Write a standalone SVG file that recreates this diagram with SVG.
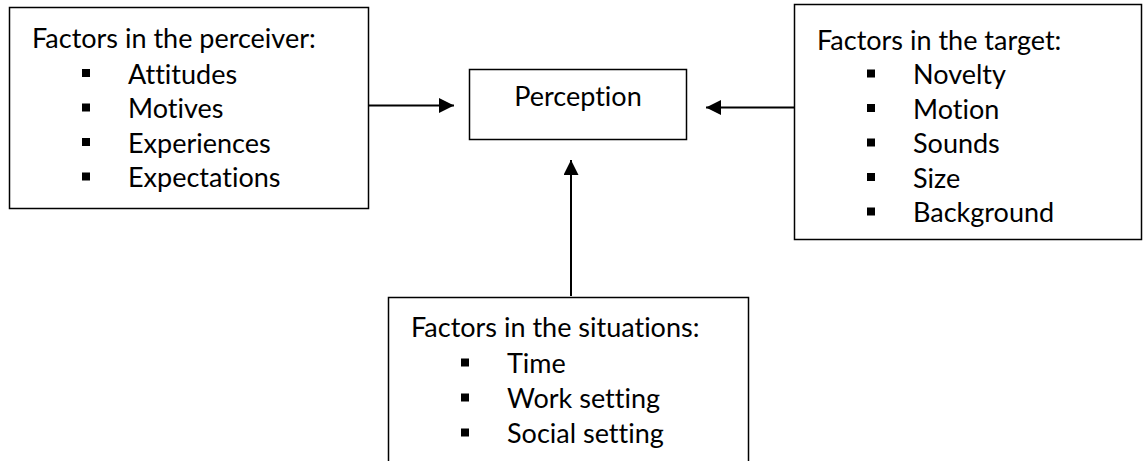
<svg xmlns="http://www.w3.org/2000/svg" width="1143" height="461" viewBox="0 0 1143 461">
<style>
.box{fill:#fff;stroke:#000;stroke-width:1.5}
.t{font-family:Lato,"Liberation Sans",sans-serif;font-size:27px;fill:#000;font-variant-ligatures:none}
.b{fill:#000}
.c{stroke:#000;stroke-width:2;fill:none;marker-end:url(#arr)}
</style>
<defs>
<marker id="arr" viewBox="0 0 15 15" refX="15" refY="7.5" markerWidth="15" markerHeight="15" markerUnits="userSpaceOnUse" orient="auto">
<path d="M0,0 L15,7.5 L0,15 z" fill="#000"/>
</marker>
</defs>
<rect width="1143" height="461" fill="#fff"/>
<g id="perceiver">
<rect class="box" x="9.5" y="7.5" width="359" height="201"/>
<text class="t" x="32" y="48">Factors in the perceiver:</text>
<rect class="b" x="82" y="69" width="8" height="8"/><text class="t" x="128" y="83.5">Attitudes</text>
<rect class="b" x="82" y="103.5" width="8" height="8"/><text class="t" x="128" y="118">Motives</text>
<rect class="b" x="82" y="138" width="8" height="8"/><text class="t" x="128" y="152.5">Experiences</text>
<rect class="b" x="82" y="172.5" width="8" height="8"/><text class="t" x="128" y="187">Expectations</text>
</g>
<g id="perception">
<rect class="box" x="469.5" y="69.5" width="217" height="70"/>
<text class="t" x="578" y="106" text-anchor="middle">Perception</text>
</g>
<g id="target">
<rect class="box" x="794.5" y="4.5" width="347" height="235"/>
<text class="t" x="817" y="50">Factors in the target:</text>
<rect class="b" x="867" y="69.5" width="8" height="8"/><text class="t" x="913" y="84">Novelty</text>
<rect class="b" x="867" y="104" width="8" height="8"/><text class="t" x="913" y="118.5">Motion</text>
<rect class="b" x="867" y="138.5" width="8" height="8"/><text class="t" x="913" y="153">Sounds</text>
<rect class="b" x="867" y="173" width="8" height="8"/><text class="t" x="913" y="187.5">Size</text>
<rect class="b" x="867" y="207.5" width="8" height="8"/><text class="t" x="913" y="222">Background</text>
</g>
<g id="situations">
<rect class="box" x="388.5" y="297.5" width="360" height="180"/>
<text class="t" x="411" y="337">Factors in the situations:</text>
<rect class="b" x="461" y="358.5" width="8" height="8"/><text class="t" x="507" y="373">Time</text>
<rect class="b" x="461" y="393.5" width="8" height="8"/><text class="t" x="507" y="408">Work setting</text>
<rect class="b" x="461" y="428.5" width="8" height="8"/><text class="t" x="507" y="443">Social setting</text>
</g>
<g id="connectors">
<line class="c" x1="368" y1="105.5" x2="454" y2="105.5"/>
<line class="c" x1="794" y1="107.5" x2="706" y2="107.5"/>
<line class="c" x1="571" y1="296" x2="571" y2="160"/>
</g>
</svg>
